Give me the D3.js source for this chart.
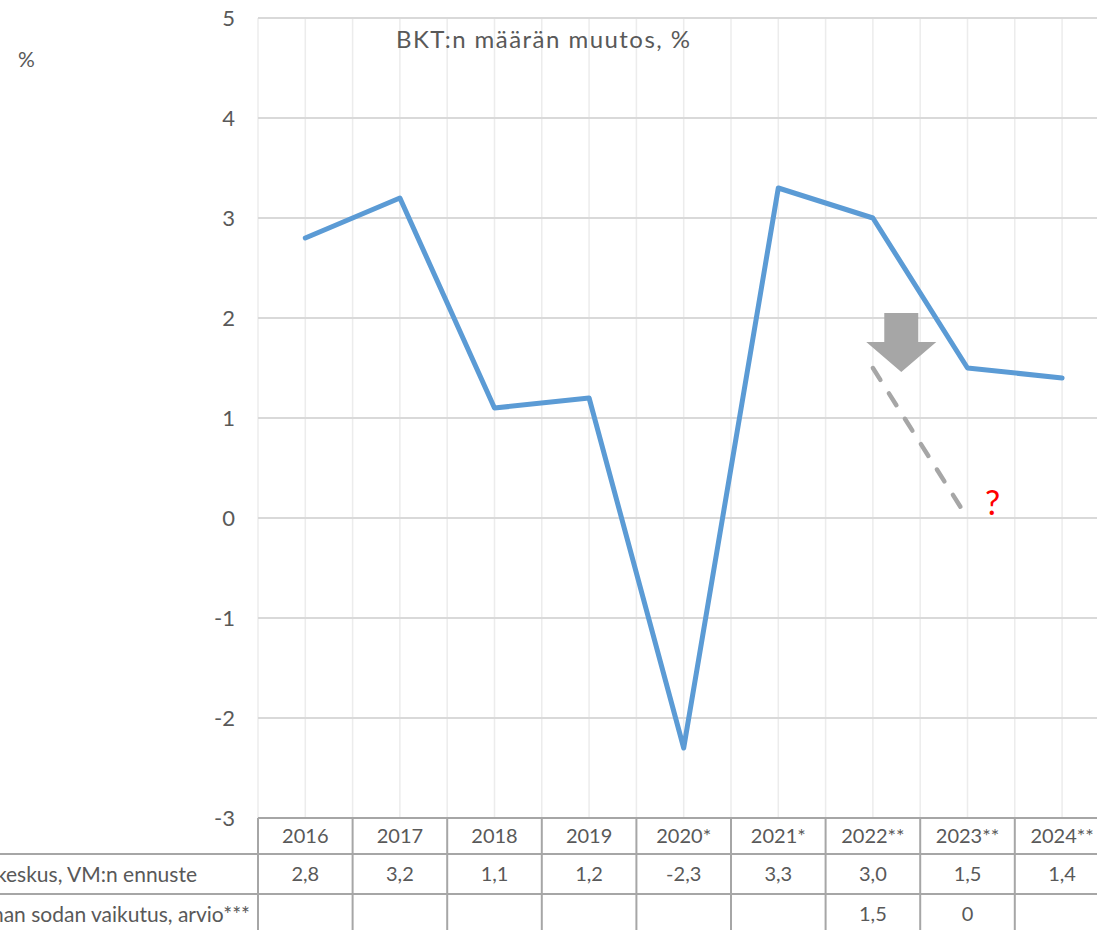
<!DOCTYPE html>
<html><head><meta charset="utf-8">
<script src="https://cdn.jsdelivr.net/npm/d3@7"></script>
<style>body{margin:0;background:#fff;overflow:hidden}svg{display:block}text{font-family:Lato,"Open Sans",sans-serif;fill:#595959}</style>
</head><body><svg id="c" width="1097" height="930"></svg>
<script>
const categories = ["2016","2017","2018","2019","2020*","2021*","2022**","2023**","2024**"];
const gdpValues = [2.8,3.2,1.1,1.2,-2.3,3.3,3.0,1.5,1.4];
const gdpLabels = ["2,8","3,2","1,1","1,2","-2,3","3,3","3,0","1,5","1,4"];
const warValues = [null,null,null,null,null,null,1.5,0,null];
const warLabels = ["","","","","","","1,5","0",""];
const rowLabels = ["Tilastokeskus, VM:n ennuste","Ukrainan sodan vaikutus, arvio***"];
const yTicks = [5,4,3,2,1,0,-1,-2,-3];
const title = "BKT:n määrän muutos, %";

(function(){
const svg = d3.select("#c");
const pLeft = 258, bw = 94.6, pTop = 18, pBottom = 818;
const x = d3.scaleBand().domain(categories).range([pLeft, pLeft + bw*categories.length]).padding(0);
const xc = c => x(c) + x.bandwidth()/2;
const y = d3.scaleLinear().domain([-3,5]).range([pBottom, pTop]);
const rows = [pBottom, 854, 894, 934];

// gridlines
const g = svg.append("g");
const vx = [];
categories.forEach(c => { vx.push(x(c)); vx.push(xc(c)); });
vx.push(x.range()[1]);
g.selectAll("line.v").data(vx).join("line")
  .attr("x1", d=>d).attr("x2", d=>d).attr("y1", pTop).attr("y2", pBottom)
  .attr("stroke", "#ececec").attr("stroke-width", 1.5);
g.selectAll("line.h").data(yTicks.filter(t=>t>-3)).join("line")
  .attr("x1", pLeft).attr("x2", x.range()[1]).attr("y1", d=>y(d)).attr("y2", d=>y(d))
  .attr("stroke", "#d9d9d9").attr("stroke-width", 2);

// y tick labels
svg.append("g").selectAll("text").data(yTicks).join("text")
  .attr("x", 235).attr("y", d=>y(d)).attr("dy", "0.36em").attr("text-anchor","end")
  .attr("font-size", 22).text(d=>d);

svg.append("text").attr("x", 18).attr("y", 67).attr("font-size", 21).text("%");
svg.append("text").attr("x", 396).attr("y", 48).attr("font-size", 24)
  .attr("textLength", 294).attr("lengthAdjust", "spacing").text(title);

// table
const tg = svg.append("g").attr("stroke", "#a6a6a6").attr("stroke-width", 2);
tg.append("line").attr("x1", pLeft).attr("x2", x.range()[1]).attr("y1", rows[0]).attr("y2", rows[0]);
tg.selectAll("line.r").data([rows[1], rows[2]]).join("line")
  .attr("x1", 0).attr("x2", x.range()[1]).attr("y1", d=>d).attr("y2", d=>d);
tg.selectAll("line.c").data(categories.map(c=>x(c)).concat([x.range()[1]])).join("line")
  .attr("x1", d=>d).attr("x2", d=>d).attr("y1", rows[0]).attr("y2", 930);

const mid = i => (rows[i]+rows[i+1])/2;
svg.append("g").selectAll("text").data(categories).join("text")
  .attr("x", d=>xc(d)).attr("y", mid(0)).attr("dy","0.36em").attr("text-anchor","middle")
  .attr("font-size", 20).text(d=>d);
svg.append("g").selectAll("text").data(gdpLabels).join("text")
  .attr("x", (d,i)=>xc(categories[i])).attr("y", mid(1)).attr("dy","0.36em").attr("text-anchor","middle")
  .attr("font-size", 20).text(d=>d);
svg.append("g").selectAll("text").data(warLabels).join("text")
  .attr("x", (d,i)=>xc(categories[i])).attr("y", mid(2)).attr("dy","0.36em").attr("text-anchor","middle")
  .attr("font-size", 20).text(d=>d);
svg.append("text").attr("x", 197).attr("y", mid(1)).attr("dy","0.36em").attr("text-anchor","end").attr("font-size",21).text(rowLabels[0]);
svg.append("text").attr("x", 250).attr("y", mid(2)).attr("dy","0.36em").attr("text-anchor","end").attr("font-size",21).text(rowLabels[1]);

// main line
const line = d3.line().x(d=>xc(d.c)).y(d=>y(d.v));
svg.append("path").datum(categories.map((c,i)=>({c, v:gdpValues[i]})))
  .attr("d", line).attr("fill","none").attr("stroke","#5b9bd5").attr("stroke-width",5)
  .attr("stroke-linejoin","round").attr("stroke-linecap","round");

// war dashed line
const warPts = categories.map((c,i)=>({c, v:warValues[i]})).filter(d=>d.v!==null);
svg.append("path").datum(warPts).attr("d", line).attr("fill","none")
  .attr("stroke","#a6a6a6").attr("stroke-width",4.5).attr("stroke-dasharray","14 16").attr("stroke-linecap","round");

// arrow annotation
const ax = xc("2022**") + 0.3*bw;
const aTop = y(2.05), aSh = y(1.76), aTip = y(1.46);
svg.append("path")
  .attr("d", `M${ax-17},${aTop}L${ax+17},${aTop}L${ax+17},${aSh}L${ax+35},${aSh}L${ax},${aTip}L${ax-35},${aSh}L${ax-17},${aSh}Z`)
  .attr("fill","#a6a6a6");

svg.append("text").attr("x", xc("2023**")+25).attr("y", y(0)-3).attr("text-anchor","middle")
  .attr("font-size", 34).style("fill","#ff0000").text("?");
})();
</script></body></html>
